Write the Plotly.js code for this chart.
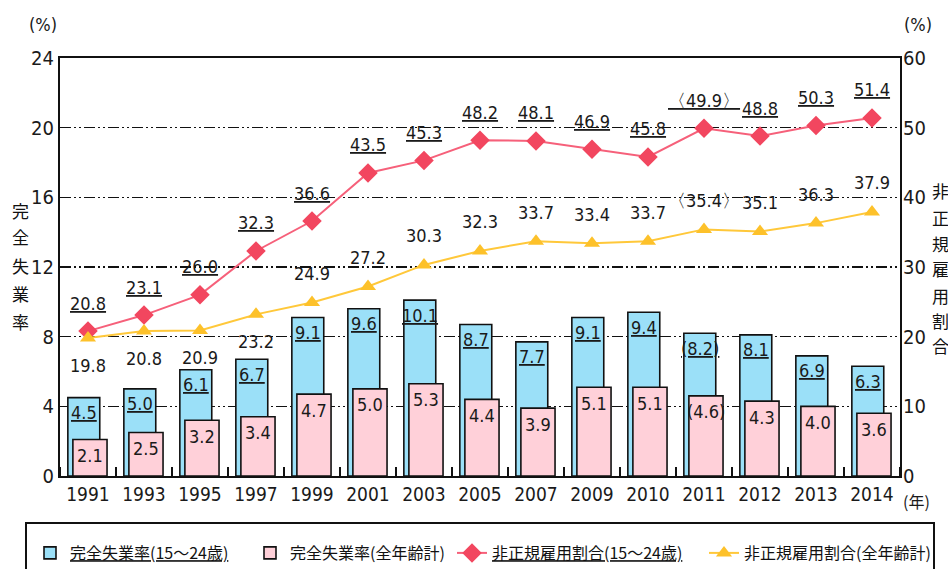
<!DOCTYPE html>
<html>
<head>
<meta charset="utf-8">
<script src="https://cdn.plot.ly/plotly-3.0.1.min.js"></script>
<style>html,body{margin:0;padding:0;background:#fff;}#chart{width:948px;height:569px;}</style>
</head>
<body>
<div id="chart"></div>
<script>
const years = ['1991','1993','1995','1997','1999','2001','2003','2005','2007','2009','2010','2011','2012','2013','2014'];
const youthUnemp = [4.5,5.0,6.1,6.7,9.1,9.6,10.1,8.7,7.7,9.1,9.4,8.2,8.1,6.9,6.3];
const allUnemp = [2.1,2.5,3.2,3.4,4.7,5.0,5.3,4.4,3.9,5.1,5.1,4.6,4.3,4.0,3.6];
const youthNonReg = [20.8,23.1,26.0,32.3,36.6,43.5,45.3,48.2,48.1,46.9,45.8,49.9,48.8,50.3,51.4];
const allNonReg = [19.8,20.8,20.9,23.2,24.9,27.2,30.3,32.3,33.7,33.4,33.7,35.4,35.1,36.3,37.9];
const youthUnempLabels = ['4.5','5.0','6.1','6.7','9.1','9.6','10.1','8.7','7.7','9.1','9.4','(8.2)','8.1','6.9','6.3'];
const allUnempLabels = ['2.1','2.5','3.2','3.4','4.7','5.0','5.3','4.4','3.9','5.1','5.1','(4.6)','4.3','4.0','3.6'];
const youthNonRegLabels = ['20.8','23.1','26.0','32.3','36.6','43.5','45.3','48.2','48.1','46.9','45.8','〈49.9〉','48.8','50.3','51.4'];
const allNonRegLabels = ['19.8','20.8','20.9','23.2','24.9','27.2','30.3','32.3','33.7','33.4','33.7','〈35.4〉','35.1','36.3','37.9'];
const seriesNames = ['<u>完全失業率(15～24歳)</u>','完全失業率(全年齢計)','<u>非正規雇用割合(15～24歳)</u>','非正規雇用割合(全年齢計)'];
const leftTitle = '完全失業率';
const rightTitle = '非正規雇用割合';

const idx = years.map((_, i) => i);
const NUM = 'DejaVu Sans Condensed, Liberation Sans Narrow, sans-serif';
const CJK = 'Noto Sans CJK JP, sans-serif';

const blueOff = -0.36, blueW = 0.57, pinkOff = -0.27, pinkW = 0.61;

const traces = [
  {type:'bar', x: idx, y: youthUnemp, name: seriesNames[0], offset: blueOff, width: blueW, legend:'legend',
   marker:{color:'#9be0f8', line:{color:'#111', width:1.6}}, yaxis:'y'},
  {type:'bar', x: idx, y: allUnemp, name: seriesNames[1], offset: pinkOff, width: pinkW, legend:'legend2',
   marker:{color:'#ffd0d9', line:{color:'#111', width:1.6}}, yaxis:'y'},
  {type:'scatter', mode:'lines+markers', x: idx, y: youthNonReg, name: seriesNames[2], yaxis:'y2', legend:'legend3',
   line:{color:'#f6607a', width:2}, marker:{symbol:'diamond', size:15, color:'#f2465f'}},
  {type:'scatter', mode:'lines+markers', x: idx, y: allNonReg, name: seriesNames[3], yaxis:'y2', legend:'legend4',
   line:{color:'#ffc83a', width:2}, marker:{symbol:'triangle-up', size:14, color:'#fdc12a'}}
];

const annotations = [];
const lblFont = {family: NUM, size: 18, color:'#1a1a1a'};
idx.forEach(i => {
  annotations.push({xref:'x', yref:'y', x: i + blueOff + blueW/2, y: youthUnemp[i], yshift:-15,
    text:'<u>'+youthUnempLabels[i]+'</u>', showarrow:false, font: lblFont});
  annotations.push({xref:'x', yref:'y', x: i + pinkOff + pinkW/2, y: allUnemp[i], yshift:-16,
    text: allUnempLabels[i], showarrow:false, font: lblFont});
  annotations.push({xref:'x', yref:'y2', x: i, y: youthNonReg[i], yshift:28,
    text:'<u>'+youthNonRegLabels[i]+'</u>', showarrow:false, font: lblFont});
  annotations.push({xref:'x', yref:'y2', x: i, y: allNonReg[i], yshift: i < 4 ? -27 : 29,
    text: allNonRegLabels[i], showarrow:false, font: lblFont});
});
const px = v => (v - 60) / 840, py = v => (476 - v) / 418;
const pa = (x, y, text, font) => ({xref:'paper', yref:'paper', x:px(x), y:py(y), xanchor:'center', yanchor:'middle', text, showarrow:false, font});
annotations.push(pa(43, 25, '(%)', {family:NUM, size:18, color:'#1a1a1a'}));
annotations.push(pa(918, 25, '(%)', {family:NUM, size:18, color:'#1a1a1a'}));
annotations.push(pa(917, 501, '(年)', {family:CJK, size:16, color:'#1a1a1a'}));
const leftY = [210,237,265,293,321];
leftTitle.split('').forEach((c, k) => annotations.push(pa(20, leftY[k], c, {family:CJK, size:17, color:'#111'})));
const rightY = [190,217,243,268,295,320,345];
rightTitle.split('').forEach((c, k) => annotations.push(pa(940, rightY[k], c, {family:CJK, size:17, color:'#111'})));

const legendBase = (x) => ({orientation:'h', x:px(x), y:py(553), xanchor:'left', yanchor:'middle',
  font:{family:CJK, size:16, color:'#111'}, bgcolor:'rgba(0,0,0,0)', borderwidth:0});

const layout = {
  width: 948, height: 569,
  margin: {l:60, r:48, t:58, b:93, pad:0, autoexpand:false},
  paper_bgcolor:'#fff', plot_bgcolor:'#fff',
  barmode:'overlay',
  showlegend:true,
  legend: legendBase(30),
  legend2: legendBase(250),
  legend3: legendBase(452),
  legend4: legendBase(704),
  xaxis:{range:[-0.5,14.5], tickvals: idx, ticktext: years, ticks:'', showgrid:false, zeroline:false,
    showline:true, linecolor:'#111', linewidth:2, mirror:true,
    tickfont:{family:NUM, size:19, color:'#1a1a1a'}, ticklabelstandoff:0,
    minor:{tick0:0.5, dtick:1, ticks:'inside', ticklen:9, tickwidth:1.5, tickcolor:'#111', showgrid:false}},
  yaxis:{range:[0,24], tickvals:[0,4,8,12,16,20,24], ticks:'', showgrid:true, gridcolor:'#111', gridwidth:1.5,
    griddash:'11px,3px,2px,3px,2px,3px', zeroline:false, showline:true, linecolor:'#111', linewidth:2, mirror:true,
    tickfont:{family:NUM, size:20, color:'#1a1a1a'}, ticklabelstandoff:0},
  yaxis2:{range:[0,60], tickvals:[0,10,20,30,40,50,60], overlaying:'y', side:'right', ticks:'', showgrid:false,
    zeroline:false, showline:false, tickfont:{family:NUM, size:20, color:'#1a1a1a'}, ticklabelstandoff:2},
  annotations: annotations,
  shapes:[{type:'rect', xref:'paper', yref:'paper', x0:px(26), x1:px(934), y0:py(523), y1:py(585),
    line:{color:'#111', width:2}, fillcolor:'rgba(0,0,0,0)'}]
};

Plotly.newPlot('chart', traces, layout, {displayModeBar:false, staticPlot:true});
</script>
</body>
</html>
